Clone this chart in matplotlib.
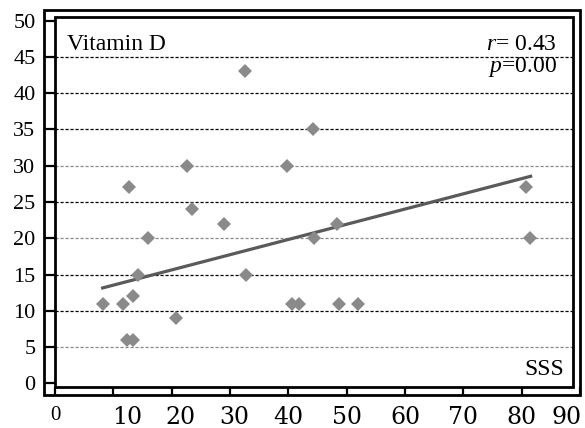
import matplotlib
matplotlib.use('Agg')
import matplotlib.pyplot as plt
from matplotlib.patches import Rectangle

# SSS score vs vitamin D values
sss = [8.2, 11.7, 12.3, 13.3, 13.4, 12.7, 14.2, 15.9, 20.7, 22.6, 23.4, 29.0,
       32.5, 32.7, 39.7, 40.7, 41.8, 44.2, 44.4, 48.3, 48.7, 51.9, 80.7, 81.4]
vitd = [11, 11, 6, 6, 12, 27, 15, 20, 9, 30, 24, 22,
        43, 15, 30, 11, 11, 35, 20, 22, 11, 11, 27, 20]

# fitted trend line end points
trend_x = [7.9, 81.8]
trend_y = [13.1, 28.6]

x_ticks = [0, 10, 20, 30, 40, 50, 60, 70, 80, 90]
y_ticks = [0, 5, 10, 15, 20, 25, 30, 35, 40, 45, 50]
dark_grid = [10, 15, 25, 35, 40, 45]
light_grid = [5, 20, 30]

plt.rcParams['mathtext.fontset'] = 'custom'
plt.rcParams['mathtext.rm'] = 'Liberation Serif'
plt.rcParams['mathtext.it'] = 'Liberation Serif:italic'

W, H = 585, 428
fig = plt.figure(figsize=(W / 100, H / 100), dpi=100)


def fx(px):
    return px / W


def fy(py):
    return 1 - py / H


# axes spans inner frame left/top/bottom, right edge goes to the 90 tick
ax = fig.add_axes([fx(55), fy(387), fx(580) - fx(55), fy(17) - fy(387)])
ax.set_xlim(0, 90)
ax.set_ylim(-0.5, 50.5)
for s in ax.spines.values():
    s.set_visible(False)

inner_right = 90 * (573 - 55) / (580 - 55)

ax.hlines(dark_grid, 0, inner_right, colors='black', lw=0.9, linestyles=(0, (2.5, 1.5)))
ax.hlines(light_grid, 0, inner_right, colors='#8a8a8a', lw=0.9, linestyles=(0, (2.5, 1.5)))

ax.plot(trend_x, trend_y, color='#5a5a5a', lw=2.3, solid_capstyle='butt', zorder=3)
ax.plot(sss, vitd, 'D', color='#8a8a8a', ms=7, mew=0, zorder=4)

ax.set_yticks(y_ticks)
ax.set_yticklabels([str(v) for v in y_ticks], fontfamily='Liberation Serif', fontsize=16)
ax.set_xticks(x_ticks)
ax.set_xticklabels([])
ax.tick_params(axis='y', direction='out', length=8, width=1.6, pad=6)
ax.tick_params(axis='x', direction='out', length=5.8, width=1.6)

# x labels drawn by hand: in the original they are not centred on every tick
label_shift = {10: 14, 20: 9, 30: 4, 90: -13}
for v in x_ticks:
    if v == 0:
        fam, size = 'Liberation Serif', 15
    else:
        fam, size = 'DejaVu Serif', 17
    ax.annotate(str(v), xy=(v, 0), xycoords=('data', 'axes fraction'),
                xytext=(label_shift.get(v, 0), -19), textcoords='offset pixels',
                ha='center', va='top', fontfamily=fam, fontsize=size,
                annotation_clip=False)

ax.text(2.0, 45.9, 'Vitamin D', fontfamily='Liberation Serif', fontsize=17, va='baseline')
ax.text(86.1, 46.0, '$r$= 0.43', fontfamily='Liberation Serif', fontsize=17,
        ha='right', va='baseline')
ax.text(86.1, 42.9, '$p$=0.00', fontfamily='Liberation Serif', fontsize=17,
        ha='right', va='baseline')
ax.text(87.3, 1.1, 'SSS', fontfamily='Liberation Serif', fontsize=17,
        ha='right', va='baseline')

# inner and outer frames
fig.patches.append(Rectangle((fx(55), fy(387)), fx(573) - fx(55), fy(17) - fy(387),
                             transform=fig.transFigure, fill=False, lw=2.0, ec='black'))
fig.patches.append(Rectangle((fx(44), fy(395)), fx(580) - fx(44), fy(10) - fy(395),
                             transform=fig.transFigure, fill=False, lw=2.0, ec='black'))

fig.savefig('out.png', dpi=100)
